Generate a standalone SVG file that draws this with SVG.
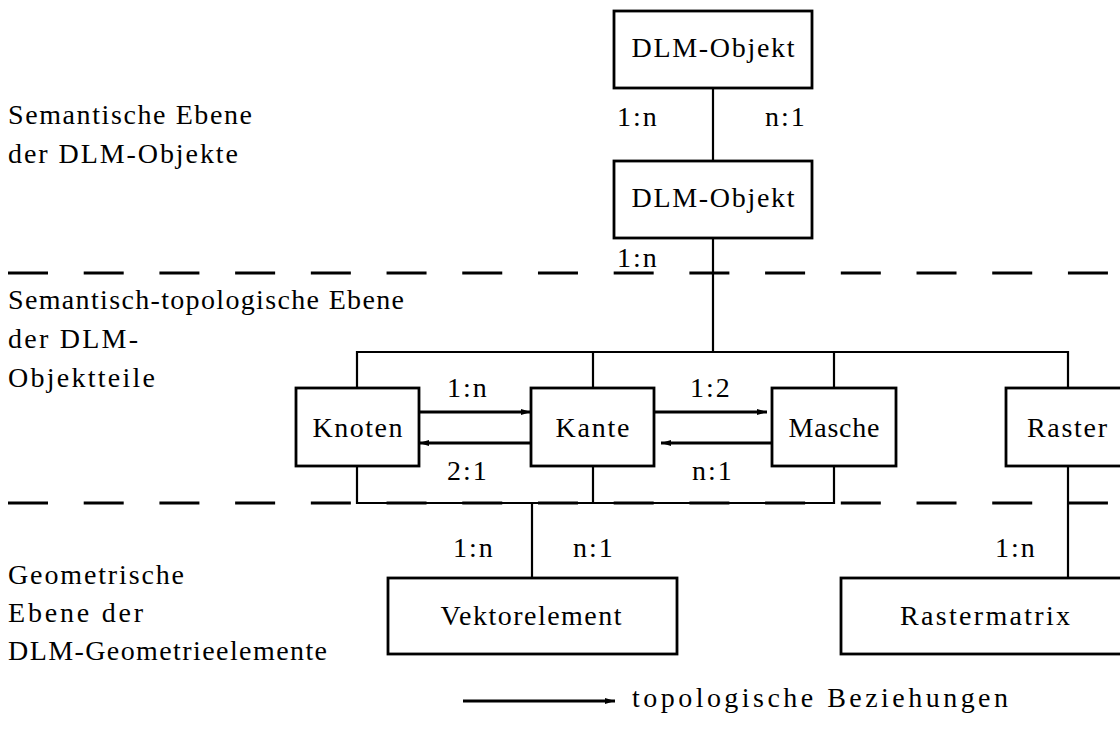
<svg xmlns="http://www.w3.org/2000/svg" width="1120" height="736" viewBox="0 0 1120 736" font-family="Liberation Serif, DejaVu Serif, serif" font-size="28">
  <style>
    .box { fill: #fff; stroke: #000; stroke-width: 2.8; }
    .ln { fill: none; stroke: #000; stroke-width: 2.2; }
    .dash { fill: none; stroke: #000; stroke-width: 3; stroke-dasharray: 40 35.71; }
    .arr { fill: none; stroke: #000; stroke-width: 2.8; marker-end: url(#head); }
    .c { text-anchor: middle; }
    .lbl { letter-spacing: 2px; }
  </style>
  <defs>
    <marker id="head" viewBox="0 0 10 6" refX="10" refY="3" markerWidth="10" markerHeight="6" markerUnits="userSpaceOnUse" orient="auto">
      <path d="M0,0 L10,3 L0,6 Z" fill="#000"/>
    </marker>
  </defs>
  <rect width="1120" height="736" fill="#fff"/>

  <!-- level separators -->
  <g id="separators">
    <line class="dash" x1="8" y1="273" x2="1108" y2="273"/>
    <line class="dash" x1="8" y1="503" x2="1108" y2="503"/>
  </g>

  <!-- level captions -->
  <g id="level-captions">
    <text x="8" y="124" textLength="244" lengthAdjust="spacing">Semantische Ebene</text>
    <text x="8" y="163" textLength="230" lengthAdjust="spacing">der DLM-Objekte</text>
    <text x="8" y="309" textLength="396" lengthAdjust="spacing">Semantisch-topologische Ebene</text>
    <text x="8" y="348" textLength="130" lengthAdjust="spacing">der DLM-</text>
    <text x="8" y="387" textLength="147" lengthAdjust="spacing">Objektteile</text>
    <text x="8" y="584" textLength="176" lengthAdjust="spacing">Geometrische</text>
    <text x="8" y="622" textLength="135" lengthAdjust="spacing">Ebene der</text>
    <text x="8" y="660" textLength="319" lengthAdjust="spacing">DLM-Geometrieelemente</text>
  </g>

  <!-- connectors -->
  <g id="connectors">
    <line class="ln" x1="713" y1="88" x2="713" y2="161"/>
    <line class="ln" x1="713" y1="238" x2="713" y2="352"/>
    <polyline class="ln" points="357,388 357,352 1068,352 1068,388"/>
    <line class="ln" x1="593" y1="352" x2="593" y2="388"/>
    <line class="ln" x1="834" y1="352" x2="834" y2="388"/>
    <polyline class="ln" points="357,466 357,503 834,503 834,466" stroke-width="2.6"/>
    <line class="ln" x1="593" y1="466" x2="593" y2="503"/>
    <line class="ln" x1="532" y1="503" x2="532" y2="578"/>
    <line class="ln" x1="1068" y1="466" x2="1068" y2="578"/>
    <line class="arr" x1="419" y1="412" x2="531" y2="412"/>
    <line class="arr" x1="531" y1="443" x2="419" y2="443"/>
    <line class="arr" x1="654" y1="412" x2="767" y2="412"/>
    <line class="arr" x1="772" y1="443" x2="661" y2="443"/>
  </g>

  <!-- cardinalities -->
  <g id="cardinalities">
    <text class="lbl" x="617" y="126">1:n</text>
    <text class="lbl" x="765" y="126">n:1</text>
    <text class="lbl" x="617" y="267">1:n</text>
    <text class="lbl" x="447" y="397">1:n</text>
    <text class="lbl" x="447" y="480">2:1</text>
    <text class="lbl" x="690" y="397">1:2</text>
    <text class="lbl" x="692" y="480">n:1</text>
    <text class="lbl" x="453" y="557">1:n</text>
    <text class="lbl" x="573" y="557">n:1</text>
    <text class="lbl" x="995" y="557">1:n</text>
  </g>

  <g id="dlm-objekt-1">
    <rect class="box" x="614" y="11" width="198" height="77"/>
    <text class="c" x="713" y="57" textLength="163" lengthAdjust="spacing">DLM-Objekt</text>
  </g>
  <g id="dlm-objekt-2">
    <rect class="box" x="614" y="161" width="198" height="77"/>
    <text class="c" x="713" y="207" textLength="163" lengthAdjust="spacing">DLM-Objekt</text>
  </g>
  <g id="knoten">
    <rect class="box" x="296" y="388" width="123" height="78"/>
    <text class="c" x="357.5" y="437" textLength="90" lengthAdjust="spacing">Knoten</text>
  </g>
  <g id="kante">
    <rect class="box" x="531" y="388" width="123" height="78"/>
    <text class="c" x="592.5" y="437" textLength="74" lengthAdjust="spacing">Kante</text>
  </g>
  <g id="masche">
    <rect class="box" x="772" y="388" width="124" height="78"/>
    <text class="c" x="834" y="437" textLength="91" lengthAdjust="spacing">Masche</text>
  </g>
  <g id="raster">
    <rect class="box" x="1006" y="388" width="124" height="78"/>
    <text class="c" x="1067" y="437" textLength="80" lengthAdjust="spacing">Raster</text>
  </g>
  <g id="vektorelement">
    <rect class="box" x="388" y="578" width="289" height="76"/>
    <text class="c" x="531" y="625" textLength="181" lengthAdjust="spacing">Vektorelement</text>
  </g>
  <g id="rastermatrix">
    <rect class="box" x="841" y="578" width="289" height="76"/>
    <text class="c" x="985" y="625" textLength="170" lengthAdjust="spacing">Rastermatrix</text>
  </g>

  <!-- legend -->
  <g id="legend">
    <line class="arr" x1="463" y1="701" x2="615" y2="701"/>
    <text x="632" y="707" textLength="376" lengthAdjust="spacing">topologische Beziehungen</text>
  </g>
</svg>
